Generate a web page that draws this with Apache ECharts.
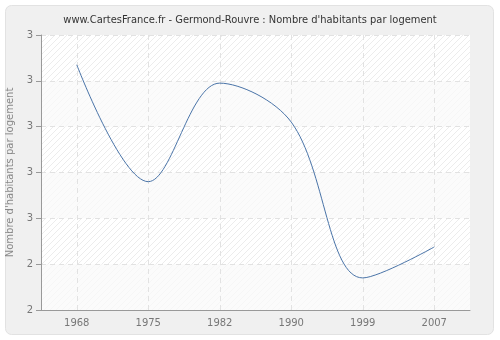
<!DOCTYPE html>
<html><head><meta charset="utf-8">
<script src="https://cdn.jsdelivr.net/npm/echarts@6/dist/echarts.min.js"></script>
<style>html,body{margin:0;padding:0;background:#fff}#c{width:500px;height:340px}</style>
</head><body><div id="c"></div>
<script>
const categories = ['1968', '1975', '1982', '1990', '1999', '2007'];
const values = [3.27, 2.76, 3.19, 3.02, 2.34, 2.475];
const yTicks = [2.2, 2.4, 2.6, 2.8, 3.0, 3.2, 3.4];

const pc = document.createElement('canvas');
pc.width = 6; pc.height = 6;
const g = pc.getContext('2d');
g.fillStyle = '#ffffff'; g.fillRect(0, 0, 6, 6);
g.strokeStyle = '#ececec'; g.lineWidth = 1;
g.beginPath(); g.moveTo(-1, 7); g.lineTo(7, -1); g.stroke();
g.beginPath(); g.moveTo(-4, 4); g.lineTo(4, -4); g.stroke();
g.beginPath(); g.moveTo(2, 10); g.lineTo(10, 2); g.stroke();

const FONT_C = "'DejaVu Sans Condensed', 'DejaVu Sans', sans-serif";
const FONT = "'DejaVu Sans', sans-serif";
const chart = echarts.init(document.getElementById('c'), null, {renderer: 'canvas'});
chart.setOption({
  animation: false,
  backgroundColor: '#ffffff',
  graphic: [{
    type: 'rect', z: -10, silent: true,
    shape: {x: 5.5, y: 5.5, width: 488, height: 329, r: 6},
    style: {fill: '#f0f0f0', stroke: '#e2e2e2', lineWidth: 1}
  }],
  title: {
    text: "www.CartesFrance.fr - Germond-Rouvre : Nombre d'habitants par logement",
    left: 'center', top: 10,
    textStyle: {fontFamily: FONT_C, fontSize: 11, fontWeight: 'normal', color: '#333'}
  },
  grid: {left: 41, right: 30, top: 35, bottom: 30, show: true, borderWidth: 0,
    outerBoundsMode: 'none', containLabel: false,
    backgroundColor: {image: pc, repeat: 'repeat'}},
  xAxis: {
    type: 'category', data: categories, boundaryGap: true,
    axisLine: {lineStyle: {color: '#999'}},
    axisTick: {alignWithLabel: true, length: 5, lineStyle: {color: '#999'}},
    axisLabel: {color: '#777', fontFamily: FONT, fontSize: 10, margin: 8},
    splitLine: {show: true, alignWithLabel: true, lineStyle: {color: '#e2e2e2', type: [5, 4]}}
  },
  yAxis: {
    type: 'value', min: yTicks[0], max: yTicks[yTicks.length - 1], interval: 0.2,
    name: "Nombre d'habitants par logement", nameLocation: 'middle', nameGap: 24,
    nameTextStyle: {color: '#888', fontFamily: FONT, fontSize: 10},
    axisLine: {show: true, lineStyle: {color: '#999'}},
    axisTick: {show: true, length: 5, lineStyle: {color: '#999'}},
    axisLabel: {color: '#777', fontFamily: FONT, fontSize: 10, margin: 8,
      formatter: v => String(Math.round(v))},
    splitLine: {show: true, lineStyle: {color: '#e2e2e2', type: [5, 4]}},
    splitArea: {show: true, areaStyle: {color: ['rgba(250,250,250,0.75)', 'rgba(255,255,255,0)']}}
  },
  series: [{
    type: 'line', data: values, smooth: 0.35, symbol: 'none',
    lineStyle: {color: '#4a74a8', width: 1}
  }]
});
</script></body></html>
